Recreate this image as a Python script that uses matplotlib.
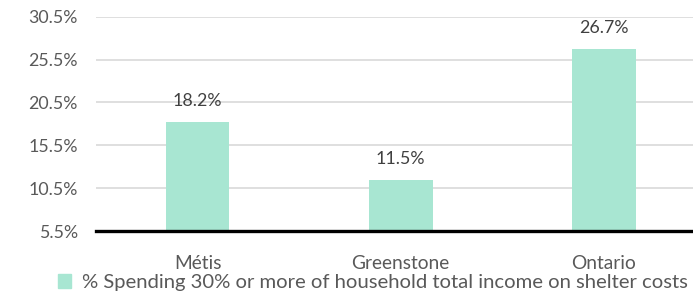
import matplotlib
matplotlib.use('Agg')
import matplotlib.pyplot as plt
from matplotlib import patches

categories = ['Métis', 'Greenstone', 'Ontario']
values = [18.2, 11.5, 26.7]
series_name = '% Spending 30% or more of household total income on shelter costs'
yticks = [5.5, 10.5, 15.5, 20.5, 25.5, 30.5]

bar_color = '#a8e6d2'
text_color = '#595959'

plt.rcParams['font.family'] = ['Lato', 'DejaVu Sans']

fig = plt.figure(figsize=(6.93, 2.93), dpi=100)
ax = fig.add_axes([0.1385, 0.2116, 0.8615, 0.7314])

x = list(range(len(categories)))
ax.bar(x, [v - yticks[0] for v in values], bottom=yticks[0], width=0.315,
       color=bar_color, zorder=3)
for xi, v in zip(x, values):
    ax.annotate('%.1f%%' % v, xy=(xi, v), xytext=(0, 15), textcoords='offset points',
                ha='center', va='center', fontsize=12.8, color='#404040')

ax.set_ylim(yticks[0], yticks[-1])
ax.set_xlim(-0.5, 2.44)
ax.set_yticks(yticks)
ax.set_yticklabels(['%.1f%%' % t for t in yticks])
ax.set_xticks(x)
ax.set_xticklabels(categories)
ax.grid(axis='y', color='#d9d9d9', linewidth=1.2, zorder=0)
for s in ['top', 'right', 'left']:
    ax.spines[s].set_visible(False)
ax.spines['bottom'].set_color('black')
ax.spines['bottom'].set_linewidth(2.4)
ax.spines['bottom'].set_zorder(4)
ax.tick_params(axis='both', length=0, labelsize=12.8, labelcolor=text_color)
ax.tick_params(axis='x', labelsize=13.8, pad=17)
ax.tick_params(axis='y', pad=13)

handle = patches.Patch(color=bar_color, label=series_name)
fig.legend(handles=[handle], loc='center', bbox_to_anchor=(0.538, 0.036),
           frameon=False, handlelength=0.65, handleheight=0.65, handletextpad=0.55,
           fontsize=14.6, labelcolor=text_color, borderaxespad=0, borderpad=0)

fig.savefig('out.png', dpi=100)
